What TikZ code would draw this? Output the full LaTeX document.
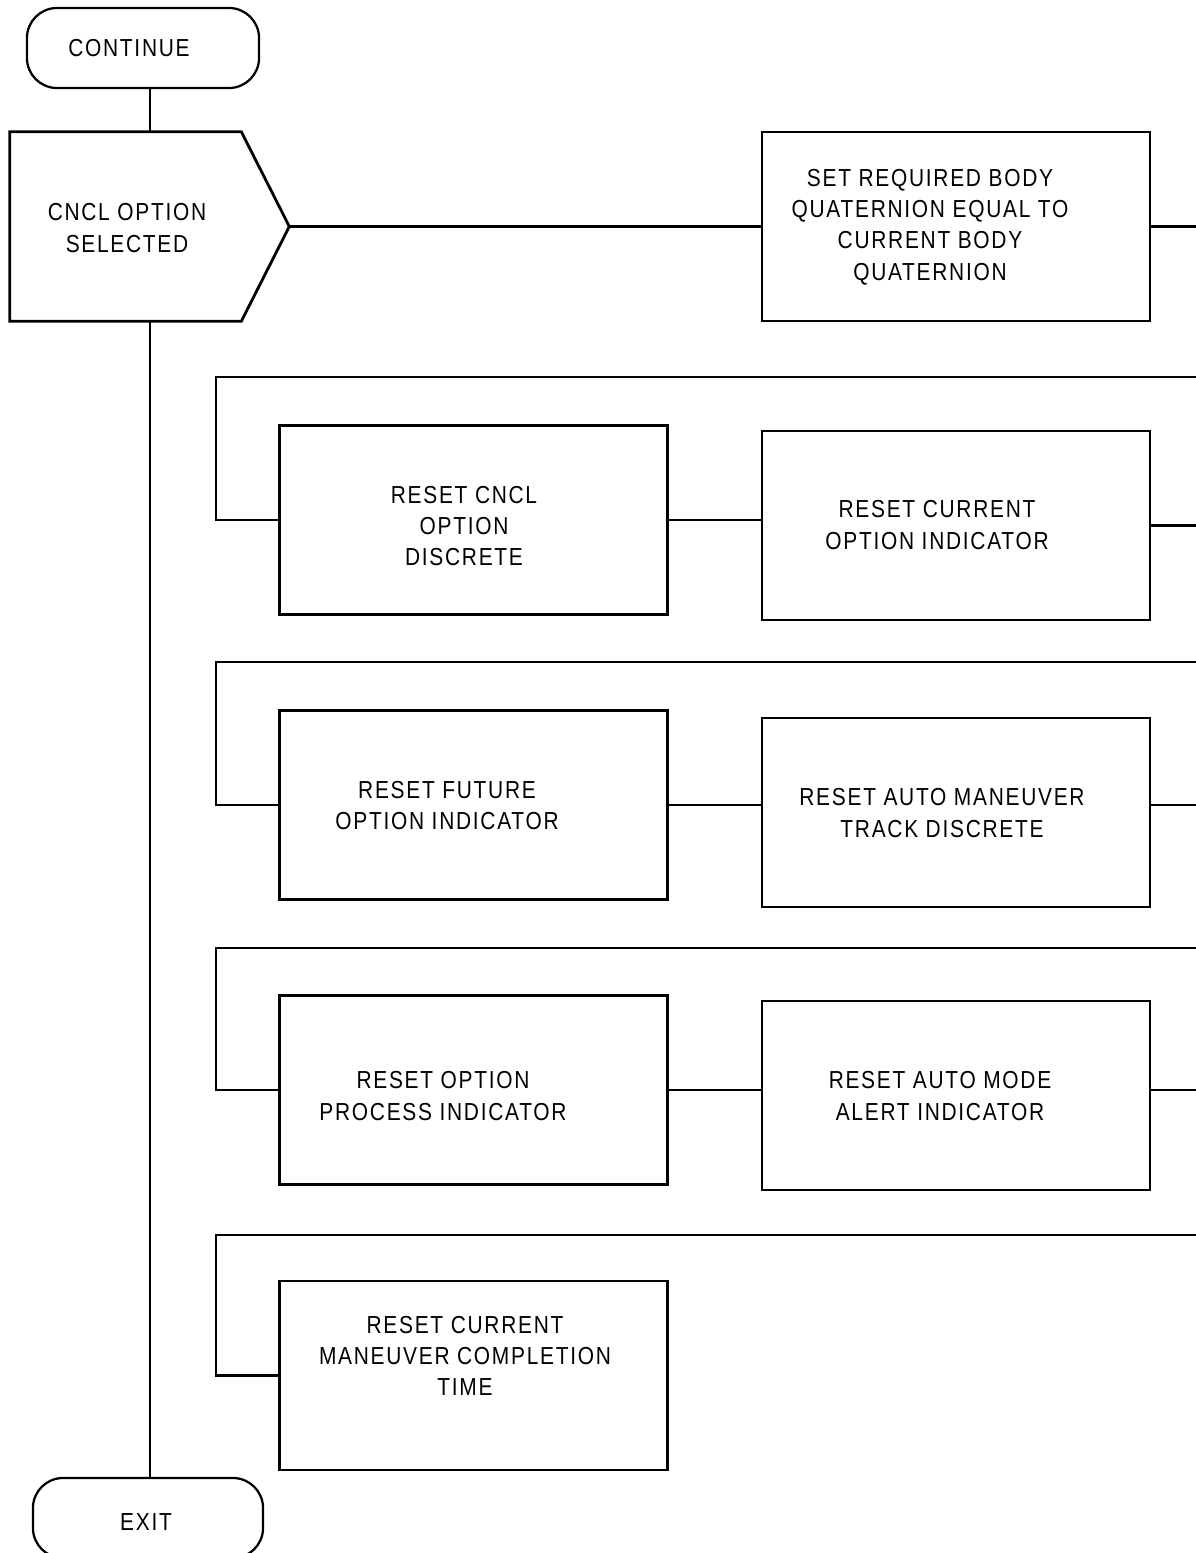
\documentclass[tikz,border=0pt]{standalone}
\usepackage{fontspec}
\setmainfont{Liberation Sans}[FakeStretch=0.85, LetterSpace=7]
\begin{document}
\begin{tikzpicture}[x=0.025cm, y=-0.025cm,
  every node/.style={font=\fontsize{17.5}{22.2}\selectfont, align=center},
  procbox/.style={rectangle, draw, line width=2pt, minimum width=9.7cm, minimum height=4.72cm},
  termbox/.style={rectangle, draw, line width=1.6pt, rounded corners=0.75cm, minimum width=5.8cm, minimum height=2cm},
  txt/.style={inner sep=0pt},
  flow/.style={line width=1.5pt}]
  \clip (0,0) rectangle (1196,1553);

  \coordinate (spine) at (150,0);
  \coordinate (rail) at (216,0);
  \coordinate (edge) at (1196,0);
  \coordinate (top2) at (1196,377);
  \coordinate (top3) at (1196,662);
  \coordinate (top4) at (1196,948);
  \coordinate (top5) at (1196,1235);

  % terminals and decision
  \node[termbox] (cont) at (143,48) {};
  \node[txt] (cont-t) at (129,48) {CONTINUE};
  \node[minimum width=5.775cm, minimum height=4.725cm] (sel) at (125.5,226.5) {};
  \node[txt] (sel-t) at (127,228) {CNCL OPTION\\SELECTED};
  \path (sel.east) ++(48,0) coordinate (seltip);
  \draw[line width=2pt] (sel.north west) -- (sel.north east) -- (seltip) -- (sel.south east) -- (sel.south west) -- cycle;
  \node[termbox, minimum width=5.75cm] (exit) at (148,1518) {};
  \node[txt] (exit-t) at (146,1522) {EXIT};

  % process boxes
  \node[procbox] (setq) at (956,226.5) {};
  \node[txt] (setq-t) at (930,227) {SET REQUIRED BODY\\QUATERNION EQUAL TO\\CURRENT BODY\\QUATERNION};
  \node[procbox] (cncl) at (473.5,520) {};
  \node[txt] (cncl-t) at (464,526) {RESET CNCL\\OPTION\\DISCRETE};
  \node[procbox] (curopt) at (956,525.5) {};
  \node[txt] (curopt-t) at (937,525) {RESET CURRENT\\OPTION INDICATOR};
  \node[procbox] (futopt) at (473.5,805) {};
  \node[txt] (futopt-t) at (447,805.5) {RESET FUTURE\\OPTION INDICATOR};
  \node[procbox] (track) at (956,812.5) {};
  \node[txt] (track-t) at (942,813) {RESET AUTO MANEUVER\\TRACK DISCRETE};
  \node[procbox] (process) at (473.5,1090) {};
  \node[txt] (process-t) at (443,1096) {RESET OPTION\\PROCESS INDICATOR};
  \node[procbox] (alert) at (956,1095.5) {};
  \node[txt] (alert-t) at (940,1096) {RESET AUTO MODE\\ALERT INDICATOR};
  \node[procbox] (comptime) at (473.5,1375.5) {};
  \node[txt] (comptime-t) at (465,1356) {RESET CURRENT\\MANEUVER COMPLETION\\TIME};

  % main line
  \draw[flow] (cont.south -| spine) -- (sel.north -| spine);
  \draw[flow] (sel.south -| spine) -- (exit.north -| spine);

  % first row
  \draw[flow] (seltip) -- (setq.west);
  \draw[flow] (setq.east) -- (setq.east -| edge);

  % continued rows
  \draw[flow] (top2) -| (rail |- cncl.west) -- (cncl.west);
  \draw[flow] (cncl.east) -- (cncl.east -| curopt.west);
  \draw[flow] (curopt.east) -- (curopt.east -| edge);

  \draw[flow] (top3) -| (rail |- futopt.west) -- (futopt.west);
  \draw[flow] (futopt.east) -- (futopt.east -| track.west);
  \draw[flow] (track.east |- futopt.east) -- (futopt.east -| edge);

  \draw[flow] (top4) -| (rail |- process.west) -- (process.west);
  \draw[flow] (process.east) -- (process.east -| alert.west);
  \draw[flow] (alert.east |- process.east) -- (process.east -| edge);

  \draw[flow] (top5) -| (rail |- comptime.west) -- (comptime.west);
\end{tikzpicture}
\end{document}
